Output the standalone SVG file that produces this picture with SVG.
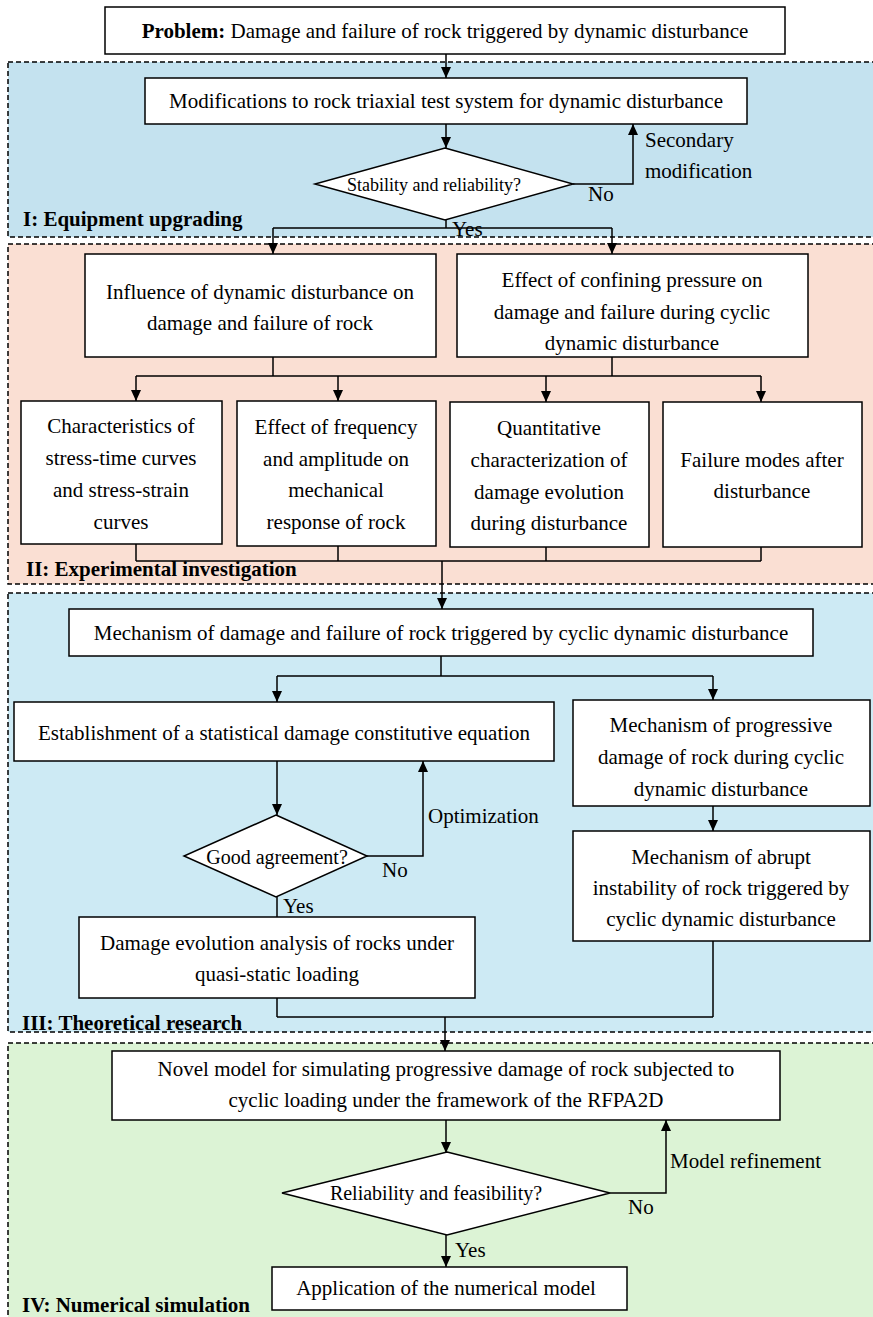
<svg xmlns="http://www.w3.org/2000/svg" width="873" height="1317" viewBox="0 0 873 1317" font-family="'Liberation Serif', 'Times New Roman', Times, serif">
<defs>
<marker id="ah" markerWidth="11" markerHeight="10" refX="11" refY="5" orient="auto" markerUnits="userSpaceOnUse">
<path d="M0,0 L11,5 L0,10 z" fill="#000"/>
</marker>
<style>
.panel{stroke:#000;stroke-width:1.5;stroke-dasharray:5,3}
.box{fill:#fff;stroke:#000;stroke-width:1.5}
.t{font-family:'Liberation Serif', 'Times New Roman', Times, serif;font-size:21px;fill:#000}
.c{text-anchor:middle;dominant-baseline:central}
.lab{font-family:'Liberation Serif', 'Times New Roman', Times, serif;font-size:21px;font-weight:bold;fill:#000}
.ln{fill:none;stroke:#000;stroke-width:1.5}
.arr{fill:none;stroke:#000;stroke-width:1.5;marker-end:url(#ah)}
</style>
</defs>
<rect width="873" height="1317" fill="#fff"/>
<g id="panels">
<rect class="panel" x="8" y="62" width="900" height="175" fill="#c4e2ef"/>
<rect class="panel" x="8" y="244" width="900" height="340" fill="#fadfd3"/>
<rect class="panel" x="8" y="593" width="900" height="439" fill="#cdeaf4"/>
<rect class="panel" x="8" y="1043" width="900" height="300" fill="#dcf3d5"/>
<text class="lab" x="23" y="226">I: Equipment upgrading</text>
<text class="lab" x="26" y="576">II: Experimental investigation</text>
<text class="lab" x="22" y="1030">III: Theoretical research</text>
<text class="lab" x="22" y="1312">IV: Numerical simulation</text>
</g>
<g id="connectors">
<text class="t" x="452" y="236">Yes</text>
<path class="arr" d="M446,54 V78"/>
<path class="arr" d="M446,124 V148"/>
<path class="arr" d="M573,184 H633 V124"/>
<path class="ln" d="M446,220 V228 M273,228 H612"/>
<path class="arr" d="M273,228 V254"/>
<path class="arr" d="M612,228 V254"/>
<path class="ln" d="M273,357 V376 M612,357 V376 M136,376 H761"/>
<path class="arr" d="M136,376 V401"/>
<path class="arr" d="M338,376 V401"/>
<path class="arr" d="M546,376 V402"/>
<path class="arr" d="M761,376 V402"/>
<path class="ln" d="M136,544 V561 M338,546 V561 M546,547 V561 M761,547 V561 M136,561 H761"/>
<path class="arr" d="M442,561 V609"/>
<path class="ln" d="M441,656 V676 M277,676 H713"/>
<path class="arr" d="M277,676 V702"/>
<path class="arr" d="M713,676 V700"/>
<path class="arr" d="M277,761 V815"/>
<path class="arr" d="M367,856 H423 V761"/>
<path class="ln" d="M277,897 V917"/>
<path class="arr" d="M713,806 V831"/>
<path class="ln" d="M277,998 V1017 M713,941 V1017 M277,1017 H713"/>
<path class="arr" d="M445,1017 V1051"/>
<path class="arr" d="M446,1120 V1153"/>
<path class="arr" d="M610,1193 H666 V1120"/>
<path class="arr" d="M446,1235 V1267"/>
<text class="t" x="645" y="147">Secondary</text>
<text class="t" x="645" y="178">modification</text>
<text class="t" x="588" y="201">No</text>
<text class="t" x="428" y="823">Optimization</text>
<text class="t" x="382" y="877">No</text>
<text class="t" x="283" y="913">Yes</text>
<text class="t" x="670" y="1168">Model refinement</text>
<text class="t" x="628" y="1214">No</text>
<text class="t" x="455" y="1257">Yes</text>
</g>
<g id="n-problem">
<rect class="box" x="105" y="7" width="680" height="47"/>
<text class="t c" x="445" y="31"><tspan font-weight="bold">Problem:</tspan> Damage and failure of rock triggered by dynamic disturbance</text>
</g>
<g id="n-modify">
<rect class="box" x="145" y="78" width="602" height="46"/>
<text class="t c" x="446" y="101">Modifications to rock triaxial test system for dynamic disturbance</text>
</g>
<g id="n-stability">
<polygon class="box" points="445,148 573,184 445,220 315,184"/>
<text class="t c" x="434" y="185" style="font-size:18px">Stability and reliability?</text>
</g>
<g id="n-influence">
<rect class="box" x="85" y="254" width="351" height="103"/>
<text class="t c" x="260" y="292">Influence of dynamic disturbance on</text>
<text class="t c" x="260" y="323">damage and failure of rock</text>
</g>
<g id="n-confining">
<rect class="box" x="457" y="254" width="351" height="103"/>
<text class="t c" x="632" y="280">Effect of confining pressure on</text>
<text class="t c" x="632" y="312">damage and failure during cyclic</text>
<text class="t c" x="632" y="343">dynamic disturbance</text>
</g>
<g id="n-characteristics">
<rect class="box" x="21" y="401" width="201" height="143"/>
<text class="t c" x="121" y="426">Characteristics of</text>
<text class="t c" x="121" y="458">stress-time curves</text>
<text class="t c" x="121" y="490">and stress-strain</text>
<text class="t c" x="121" y="522">curves</text>
</g>
<g id="n-frequency">
<rect class="box" x="237" y="401" width="199" height="145"/>
<text class="t c" x="336" y="427">Effect of frequency</text>
<text class="t c" x="336" y="459">and amplitude on</text>
<text class="t c" x="336" y="490">mechanical</text>
<text class="t c" x="336" y="522">response of rock</text>
</g>
<g id="n-quantitative">
<rect class="box" x="450" y="402" width="199" height="145"/>
<text class="t c" x="549" y="428">Quantitative</text>
<text class="t c" x="549" y="460">characterization of</text>
<text class="t c" x="549" y="492">damage evolution</text>
<text class="t c" x="549" y="523">during disturbance</text>
</g>
<g id="n-failure">
<rect class="box" x="663" y="402" width="199" height="145"/>
<text class="t c" x="762" y="460">Failure modes after</text>
<text class="t c" x="762" y="491">disturbance</text>
</g>
<g id="n-mechanism">
<rect class="box" x="69" y="609" width="744" height="47"/>
<text class="t c" x="441" y="633">Mechanism of damage and failure of rock triggered by cyclic dynamic disturbance</text>
</g>
<g id="n-establish">
<rect class="box" x="14" y="702" width="540" height="59"/>
<text class="t c" x="284" y="733">Establishment of a statistical damage constitutive equation</text>
</g>
<g id="n-progressive">
<rect class="box" x="573" y="700" width="297" height="106"/>
<text class="t c" x="721" y="725">Mechanism of progressive</text>
<text class="t c" x="721" y="757">damage of rock during cyclic</text>
<text class="t c" x="721" y="789">dynamic disturbance</text>
</g>
<g id="n-agreement">
<polygon class="box" points="276,815 367,856 276,897 184,856"/>
<text class="t c" x="277" y="857" style="font-size:20px">Good agreement?</text>
</g>
<g id="n-evolution">
<rect class="box" x="79" y="917" width="396" height="81"/>
<text class="t c" x="277" y="943">Damage evolution analysis of rocks under</text>
<text class="t c" x="277" y="974">quasi-static loading</text>
</g>
<g id="n-abrupt">
<rect class="box" x="573" y="831" width="297" height="110"/>
<text class="t c" x="721" y="857">Mechanism of abrupt</text>
<text class="t c" x="721" y="888">instability of rock triggered by</text>
<text class="t c" x="721" y="919">cyclic dynamic disturbance</text>
</g>
<g id="n-novel">
<rect class="box" x="112" y="1051" width="668" height="69"/>
<text class="t c" x="446" y="1069">Novel model for simulating progressive damage of rock subjected to</text>
<text class="t c" x="446" y="1100">cyclic loading under the framework of the RFPA2D</text>
</g>
<g id="n-reliability">
<polygon class="box" points="447,1152 610,1193 447,1235 282,1193"/>
<text class="t c" x="436" y="1193" style="font-size:20px">Reliability and feasibility?</text>
</g>
<g id="n-application">
<rect class="box" x="272" y="1267" width="355" height="43"/>
<text class="t c" x="446" y="1288">Application of the numerical model</text>
</g>
</svg>
